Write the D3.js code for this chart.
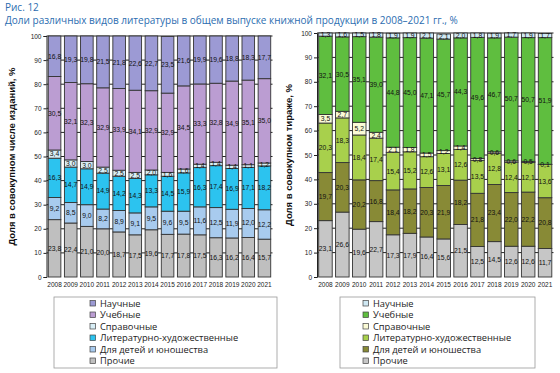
<!DOCTYPE html>
<html>
<head>
  <meta charset="utf-8">
  <title>Рис. 12</title>
  <script src="https://d3js.org/d3.v7.min.js"></script>
  <style>
    body { margin: 0; background: #fff; }
    svg { display: block; }
    .ttl { font-family: "Open Sans", sans-serif; font-size: 10px; fill: #2c6db0; }
    .tick text, .yr { font-family: "Liberation Sans", Arial, sans-serif; font-size: 6.5px; fill: #222; }
    .val { font-family: "Liberation Sans", Arial, sans-serif; font-size: 6.8px; fill: #111; }
    .atitle { font-family: "Liberation Sans", Arial, sans-serif; font-size: 9.5px; font-weight: bold; fill: #111; }
    .leg { font-family: "Open Sans", sans-serif; font-size: 9.3px; fill: #222; }
  </style>
</head>
<body>
<div id="chart"></div>
<script>
// years and categories (bottom to top in the stack)
var years = [2008, 2009, 2010, 2011, 2012, 2013, 2014, 2015, 2016, 2017, 2018, 2019, 2020, 2021];
var categories = ["Прочие", "Для детей и юношества", "Литературно-художественные", "Справочные", "Учебные", "Научные"];
var yTicks = [0, 10, 20, 30, 40, 50, 60, 70, 80, 90, 100];

// share in number of titles, %
var titlesOther    = [23.8, 22.4, 21.0, 20.0, 18.7, 17.5, 19.6, 17.7, 17.8, 17.5, 16.3, 16.2, 16.4, 15.7];
var titlesChildren = [9.2, 8.5, 9.0, 8.2, 8.9, 9.1, 9.5, 9.6, 9.5, 11.6, 12.5, 11.9, 12.0, 12.2];
var titlesFiction  = [16.3, 14.7, 14.9, 14.9, 14.2, 14.3, 13.3, 14.5, 15.9, 16.3, 17.4, 16.9, 17.1, 18.2];
var titlesRef      = [3.4, 3.0, 3.0, 2.5, 2.5, 2.5, 2.0, 1.6, 1.6, 1.4, 1.4, 1.4, 1.1, 1.2];
var titlesEdu      = [30.5, 32.1, 32.3, 32.9, 33.9, 34.1, 32.9, 32.9, 34.5, 33.3, 32.8, 34.9, 35.1, 35.0];
var titlesSci      = [16.8, 19.3, 19.8, 21.5, 21.8, 22.6, 22.7, 23.5, 21.6, 19.9, 19.6, 18.8, 18.3, 17.7];

// share in print run, %
var runOther    = [23.1, 26.6, 19.6, 22.7, 17.3, 17.9, 16.4, 15.6, 21.5, 12.5, 14.5, 12.6, 12.6, 11.7];
var runChildren = [19.7, 20.3, 20.2, 16.8, 18.4, 18.2, 20.3, 21.9, 18.2, 21.8, 23.4, 22.0, 22.2, 20.8];
var runFiction  = [20.3, 18.3, 18.4, 17.4, 15.4, 15.2, 12.6, 13.1, 12.6, 13.5, 12.8, 12.4, 12.1, 13.6];
var runRef      = [3.5, 2.7, 5.2, 2.4, 2.1, 1.8, 1.5, 1.2, 1.4, 0.8, 0.6, 0.6, 0.5, 0.1];
var runEdu      = [32.1, 30.5, 35.1, 39.0, 44.8, 45.0, 47.1, 45.7, 44.3, 49.6, 46.7, 50.7, 50.7, 51.9];
var runSci      = [1.3, 1.6, 1.5, 1.8, 1.9, 1.9, 2.1, 2.1, 2.0, 1.8, 1.9, 1.7, 1.9, 1.7];

var fmt = function(v) { return d3.format(".1f")(v).replace(".", ","); };

var svg = d3.select("#chart").append("svg")
  .attr("width", 560)
  .attr("height", 373);

svg.append("text").attr("class", "ttl").attr("x", 5).attr("y", 11).text("Рис. 12");
svg.append("text").attr("class", "ttl").attr("x", 5).attr("y", 24)
  .text("Доли различных видов литературы в общем выпуске книжной продукции в 2008–2021 гг., %");

var panelNo = 0;

function drawPanel(opts) {
  panelNo++;
  var rows = years.map(function(yr, i) {
    var r = {year: yr};
    categories.forEach(function(c, k) { r[c] = opts.series[k][i]; });
    return r;
  });
  var stack = d3.stack().keys(categories)(rows);

  var x = d3.scaleBand().domain(years).range(opts.xRange).paddingInner(opts.pad).paddingOuter(opts.pad / 2);
  var y = d3.scaleLinear().domain([0, 100]).range(opts.yRange);
  var color = d3.scaleOrdinal().domain(categories).range(opts.colors);

  // bars stop at the 100% line
  svg.append("clipPath").attr("id", "clip" + panelNo)
    .append("rect")
    .attr("x", opts.xRange[0]).attr("y", y(100) - 1)
    .attr("width", opts.xRange[1] - opts.xRange[0])
    .attr("height", y(0) - y(100) + 2);

  var g = svg.append("g");

  // gridlines
  g.selectAll(".grid").data(yTicks.slice(1)).enter().append("line")
    .attr("x1", opts.xRange[0]).attr("x2", opts.xRange[1])
    .attr("y1", function(d) { return y(d); }).attr("y2", function(d) { return y(d); })
    .attr("stroke", "#222").attr("stroke-width", 1);

  // bars
  var layer = g.append("g").attr("clip-path", "url(#clip" + panelNo + ")")
    .selectAll(".layer").data(stack).enter().append("g")
    .attr("fill", function(d) { return color(d.key); });
  layer.selectAll("rect").data(function(d) { return d; }).enter().append("rect")
    .attr("x", function(d) { return x(d.data.year); })
    .attr("width", x.bandwidth())
    .attr("y", function(d) { return y(Math.min(d[1], 100)); })
    .attr("height", function(d) { return y(d[0]) - y(Math.min(d[1], 100)); })
    .attr("stroke", "#333").attr("stroke-width", 0.9);

  // value labels
  stack.forEach(function(s) {
    g.selectAll(null).data(s).enter().append("text")
      .attr("class", "val")
      .attr("x", function(d) { return x(d.data.year) + x.bandwidth() / 2; })
      .attr("y", function(d) { return (y(d[0]) + y(Math.min(d[1], 100))) / 2 + 2.4; })
      .attr("text-anchor", "middle")
      .text(function(d) { return fmt(d[1] - d[0]); });
  });

  // y axis
  var ax = g.append("g")
    .attr("transform", "translate(" + opts.xRange[0] + ",0)")
    .call(d3.axisLeft(y).tickValues(yTicks).tickSize(3).tickPadding(2));
  ax.select(".domain").attr("stroke", "#222");
  ax.selectAll(".tick line").attr("stroke", "#222");

  // year labels
  g.selectAll(".yr").data(years).enter().append("text")
    .attr("class", "yr")
    .attr("x", function(d) { return x(d) + x.bandwidth() / 2; })
    .attr("y", opts.yRange[0] + 10)
    .attr("text-anchor", "middle")
    .text(function(d) { return d; });

  // axis title
  svg.append("text").attr("class", "atitle")
    .attr("transform", "translate(" + opts.titleX + "," + ((opts.yRange[0] + opts.yRange[1]) / 2) + ") rotate(-90)")
    .attr("text-anchor", "middle")
    .text(opts.title);

  // legend
  var lg = svg.append("g");
  lg.append("rect")
    .attr("x", opts.legend[0]).attr("y", 297)
    .attr("width", opts.legend[1] - opts.legend[0]).attr("height", 71)
    .attr("fill", "none").attr("stroke", "#999").attr("stroke-width", 0.8);
  var items = categories.slice().reverse();
  var li = lg.selectAll(".li").data(items).enter().append("g")
    .attr("transform", function(d, i) { return "translate(" + opts.legendItemX + "," + (303.5 + i * 11.5) + ")"; });
  li.append("rect").attr("x", 0).attr("y", -3).attr("width", 5.5).attr("height", 5.5)
    .attr("fill", function(d) { return color(d); })
    .attr("stroke", "#444").attr("stroke-width", 0.7);
  li.append("text").attr("class", "leg").attr("x", 10).attr("y", 3.4)
    .text(function(d) { return d; });
}

drawPanel({
  series: [titlesOther, titlesChildren, titlesFiction, titlesRef, titlesEdu, titlesSci],
  colors: ["#bfbfbf", "#a8cbee", "#2cc3ef", "#d8eef6", "#bb9dd2", "#9c9ad4"],
  xRange: [46.5, 272.5],
  yRange: [277, 36],
  pad: 0.22,
  title: "Доля в совокупном числе изданий, %",
  titleX: 15,
  legend: [54, 277],
  legendItemX: 90
});

drawPanel({
  series: [runOther, runChildren, runFiction, runRef, runEdu, runSci],
  colors: ["#c6c6c6", "#888a36", "#a8d04c", "#fbfbd6", "#5fbe3f", "#cfe8f3"],
  xRange: [317, 553.5],
  yRange: [277, 33],
  pad: 0.2,
  title: "Доля в совокупном тираже, %",
  titleX: 292,
  legend: [340, 535],
  legendItemX: 363
});
</script>
</body>
</html>
